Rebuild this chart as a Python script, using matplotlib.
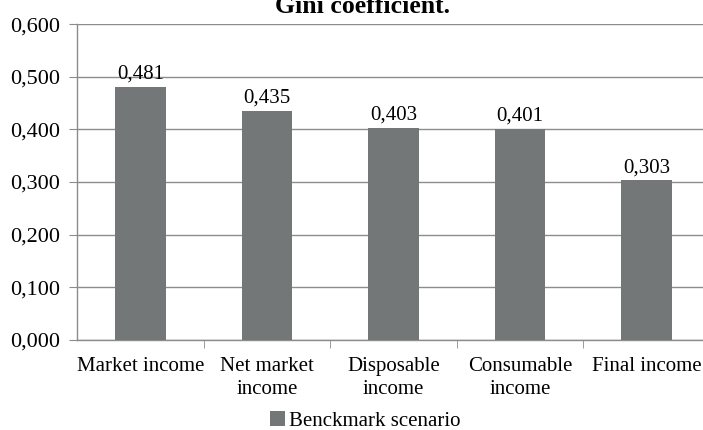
import matplotlib.pyplot as plt
import numpy as np

categories = ['Market income', 'Net market\nincome', 'Disposable\nincome',
              'Consumable\nincome', 'Final income']
gini = [0.481, 0.435, 0.403, 0.401, 0.303]
yticks = [0.0, 0.1, 0.2, 0.3, 0.4, 0.5, 0.6]

plt.rcParams['font.family'] = ['Liberation Serif', 'DejaVu Serif']

fig = plt.figure(figsize=(7.03, 4.30), dpi=100)
ax = fig.add_axes([0.1095, 0.2093, 0.9005, 0.7347])

x = np.arange(len(categories))
bars = ax.bar(x, gini, width=0.4, color='#747778', zorder=3,
              label='Benckmark scenario')

for xi, v in zip(x, gini):
    ax.text(xi, v + 0.006, f'{v:.3f}'.replace('.', ','), ha='center',
            va='bottom', fontsize=15)

ax.set_xlim(-0.5, len(categories) - 0.5)
ax.set_ylim(0, 0.6)
ax.set_yticks(yticks)
ax.set_yticklabels([f'{t:.3f}'.replace('.', ',') for t in yticks], fontsize=16)
ax.yaxis.grid(True, color='#8c8c8c', linewidth=1.0, zorder=0)
ax.tick_params(axis='y', length=6, color='#8c8c8c', pad=6)

# category labels centred, tick marks on the boundaries
ax.set_xticks(x)
ax.set_xticklabels(categories, fontsize=15, linespacing=1.3)
ax.tick_params(axis='x', length=0, pad=12)
ax.set_xticks(np.arange(0.5, len(categories) - 0.5), minor=True)
ax.tick_params(axis='x', which='minor', length=6, color='#8c8c8c')

for s in ['top', 'right']:
    ax.spines[s].set_visible(False)
for s in ['left', 'bottom']:
    ax.spines[s].set_color('#8c8c8c')
    ax.spines[s].set_linewidth(1.0)

fig.text(0.516, 1 - 13 / 430, 'Gini coefficient.', ha='center',
         va='baseline', fontsize=18.5, fontweight='bold')

fig.legend(handles=[bars], loc='center', bbox_to_anchor=(0.52, 1 - 421 / 430),
           frameon=False, fontsize=15, handlelength=0.7, handleheight=0.7,
           handletextpad=0.2, borderpad=0, borderaxespad=0)

fig.savefig('out.png', dpi=100)
